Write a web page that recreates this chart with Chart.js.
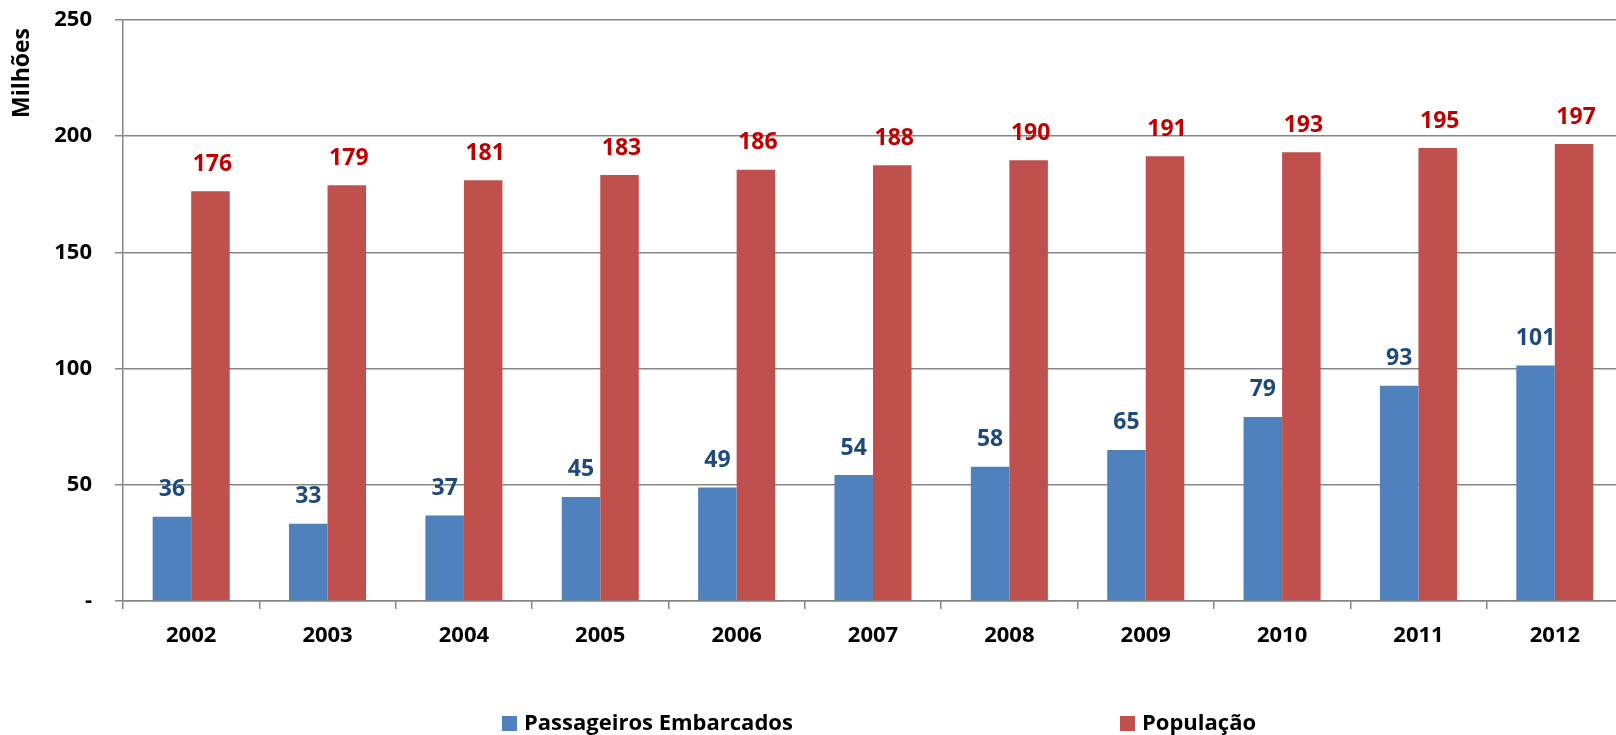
<!DOCTYPE html>
<html>
<head>
<meta charset="utf-8">
<script src="https://cdn.jsdelivr.net/npm/chart.js@4"></script>
<style>
  html, body { margin: 0; padding: 0; background: #ffffff; overflow: hidden; }
  #wrap { position: absolute; left: 0; top: 0; width: 1624px; height: 735px; }
</style>
</head>
<body>
<div id="wrap"><canvas id="c" width="1624" height="735"></canvas></div>
<script>
const categories = ['2002', '2003', '2004', '2005', '2006', '2007', '2008', '2009', '2010', '2011', '2012'];
const passageiros = [36.2, 33.2, 36.8, 44.8, 48.8, 54.2, 57.8, 65.0, 79.2, 92.6, 101.3];
const populacao = [176.3, 178.9, 181.0, 183.3, 185.6, 187.5, 189.6, 191.4, 193.1, 194.9, 196.6];
const seriesNames = ['Passageiros Embarcados', 'População'];
const yTickValues = [0, 50, 100, 150, 200, 250];
const yTickLabels = ['-', '50', '100', '150', '200', '250'];
const axisTitle = 'Milhões';

const FONT = "'Open Sans', 'DejaVu Sans', sans-serif";
const barColors = ['#4F81BD', '#C0504D'];
const labelColors = ['#1F497D', '#C00000'];

const valueLabels = {
  id: 'valueLabels',
  afterDatasetsDraw(chart) {
    const ctx = chart.ctx;
    ctx.save();
    ctx.font = 'bold 23px ' + FONT;
    ctx.textAlign = 'center';
    ctx.textBaseline = 'middle';
    chart.data.datasets.forEach((ds, di) => {
      const meta = chart.getDatasetMeta(di);
      ctx.fillStyle = labelColors[di];
      meta.data.forEach((bar, i) => {
        ctx.fillText(String(Math.round(ds.data[i])), bar.x + (di === 1 ? 2 : 0), bar.y - 27);
      });
    });
    ctx.restore();
  }
};

const yTitle = {
  id: 'yTitle',
  afterDraw(chart) {
    const ctx = chart.ctx;
    ctx.save();
    ctx.font = 'bold 23px ' + FONT;
    ctx.fillStyle = '#000000';
    ctx.textAlign = 'center';
    ctx.textBaseline = 'middle';
    ctx.translate(22, 73);
    ctx.rotate(-Math.PI / 2);
    ctx.fillText(axisTitle, 0, 0);
    ctx.restore();
  }
};

const customLegend = {
  id: 'customLegend',
  afterDraw(chart) {
    const ctx = chart.ctx;
    const xs = [502, 1120];
    const y = 723;
    ctx.save();
    ctx.font = 'bold 22px ' + FONT;
    ctx.textBaseline = 'middle';
    ctx.textAlign = 'left';
    chart.data.datasets.forEach((ds, di) => {
      ctx.fillStyle = ds.backgroundColor;
      ctx.fillRect(xs[di], y - 7, 15, 15);
      ctx.fillStyle = '#000000';
      ctx.fillText(ds.label, xs[di] + 22, y + 1);
    });
    ctx.restore();
  }
};

new Chart(document.getElementById('c'), {
  type: 'bar',
  data: {
    labels: categories,
    datasets: [
      { label: seriesNames[0], data: passageiros, backgroundColor: barColors[0], borderWidth: 0 },
      { label: seriesNames[1], data: populacao, backgroundColor: barColors[1], borderWidth: 0 }
    ]
  },
  options: {
    responsive: false,
    devicePixelRatio: 1,
    animation: false,
    layout: { padding: { left: 0, right: 1, top: 20, bottom: 0 } },
    datasets: { bar: { categoryPercentage: 0.565, barPercentage: 1.0 } },
    plugins: {
      legend: { display: false },
      tooltip: { enabled: false }
    },
    scales: {
      x: {
        offset: true,
        grid: {
          offset: true,
          drawOnChartArea: false,
          drawTicks: true,
          tickLength: 8,
          color: '#868686',
          lineWidth: 1.5
        },
        border: { display: true, color: '#868686', width: 1.5 },
        ticks: {
          color: '#000000',
          font: { family: FONT, size: 22, weight: 'bold' },
          padding: 14,
          maxRotation: 0
        },
        afterFit(s) { s.height = 134; s.paddingLeft = 0; s.paddingRight = 0; }
      },
      y: {
        min: 0,
        max: 250,
        afterBuildTicks(s) { s.ticks = yTickValues.map(v => ({ value: v })); },
        grid: {
          color: '#868686',
          lineWidth: 1.5,
          drawTicks: true,
          tickLength: 8
        },
        border: { display: true, color: '#868686', width: 1.5 },
        ticks: {
          color: '#000000',
          font: { family: FONT, size: 22, weight: 'bold' },
          padding: 23,
          callback(value) {
            const idx = yTickValues.indexOf(value);
            return idx >= 0 ? yTickLabels[idx] : '';
          }
        },
        title: { display: false },
        afterFit(s) { s.width = 123; s.paddingTop = 0; s.paddingBottom = 0; }
      }
    }
  },
  plugins: [valueLabels, yTitle, customLegend]
});
</script>
</body>
</html>
